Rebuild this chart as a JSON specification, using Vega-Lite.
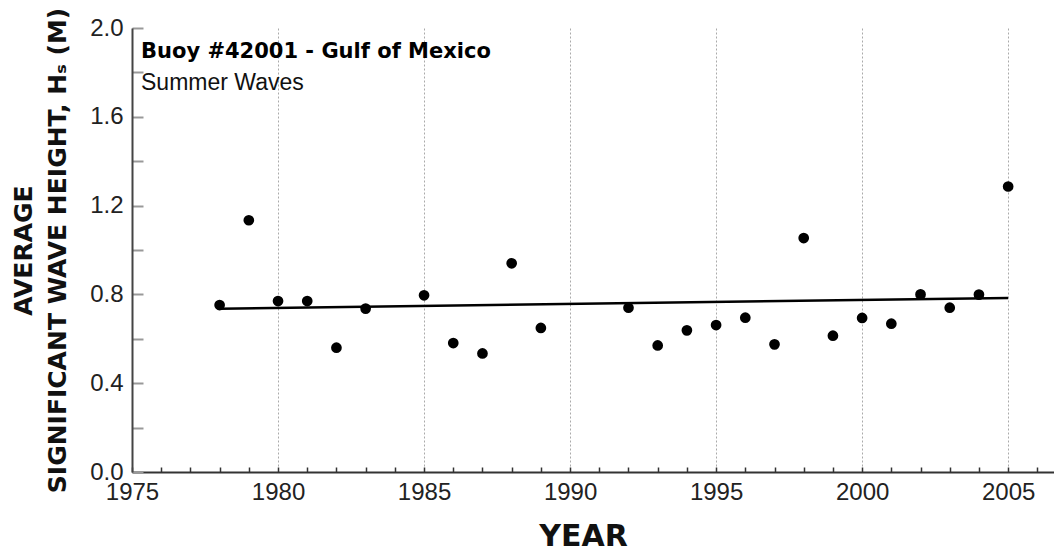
{
  "$schema": "https://vega.github.io/schema/vega-lite/v6.json",
  "autosize": {"type": "none"},
  "padding": {"left": 132, "top": 28, "right": 0, "bottom": 83},
  "width": 922,
  "height": 444,
  "background": "white",
  "config": {
    "view": {"stroke": null},
    "font": "Liberation Sans"
  },
  "title": {
    "text": "Buoy #42001 - Gulf of Mexico",
    "subtitle": "Summer Waves",
    "anchor": "start",
    "frame": "group",
    "orient": "top",
    "offset": -88,
    "dx": 9,
    "font": "DejaVu Sans",
    "fontSize": 21,
    "fontWeight": "bold",
    "color": "#000000",
    "subtitleFont": "Liberation Sans",
    "subtitleFontSize": 23,
    "subtitleColor": "#111111",
    "subtitlePadding": 10
  },
  "datasets": {
    "waves": [
      {"year": 1978, "hs": 0.752},
      {"year": 1979, "hs": 1.134},
      {"year": 1980, "hs": 0.770},
      {"year": 1981, "hs": 0.770},
      {"year": 1982, "hs": 0.560},
      {"year": 1983, "hs": 0.736},
      {"year": 1985, "hs": 0.796},
      {"year": 1986, "hs": 0.581},
      {"year": 1987, "hs": 0.534},
      {"year": 1988, "hs": 0.940},
      {"year": 1989, "hs": 0.649},
      {"year": 1992, "hs": 0.740},
      {"year": 1993, "hs": 0.570},
      {"year": 1994, "hs": 0.638},
      {"year": 1995, "hs": 0.662},
      {"year": 1996, "hs": 0.695},
      {"year": 1997, "hs": 0.575},
      {"year": 1998, "hs": 1.054},
      {"year": 1999, "hs": 0.614},
      {"year": 2000, "hs": 0.694},
      {"year": 2001, "hs": 0.668},
      {"year": 2002, "hs": 0.800},
      {"year": 2003, "hs": 0.740},
      {"year": 2004, "hs": 0.799},
      {"year": 2005, "hs": 1.286}
    ],
    "trend": [
      {"year": 1978, "hs": 0.735},
      {"year": 2005, "hs": 0.784}
    ]
  },
  "encoding": {
    "x": {
      "field": "year",
      "type": "quantitative",
      "scale": {"domain": [1975, 2006.57], "nice": false, "zero": false},
      "axis": {
        "title": "YEAR",
        "titleFont": "DejaVu Sans",
        "titleFontSize": 30,
        "titleFontWeight": "bold",
        "titleColor": "#111111",
        "titlePadding": 17,
        "titleX": 451,
        "values": [1975,1976,1977,1978,1979,1980,1981,1982,1983,1984,1985,1986,1987,1988,1989,1990,1991,1992,1993,1994,1995,1996,1997,1998,1999,2000,2001,2002,2003,2004,2005,2006],
        "labelExpr": "datum.value % 5 === 0 ? '' + datum.value : ''",
        "labelFontSize": 24,
        "labelColor": "#222222",
        "labelPadding": 13,
        "labelFlush": false,
        "labelOverlap": false,
        "tickSize": -5,
        "tickColor": "#333333",
        "tickWidth": 1.5,
        "domainColor": "#333333",
        "domainWidth": 2,
        "grid": true,
        "gridColor": "#aaaaaa",
        "gridDash": [2, 2],
        "gridWidth": 1,
        "gridOpacity": {"condition": {"test": "datum.value % 5 === 0", "value": 1}, "value": 0}
      }
    },
    "y": {
      "field": "hs",
      "type": "quantitative",
      "scale": {"domain": [0, 2], "nice": false},
      "axis": {
        "title": ["AVERAGE", "SIGNIFICANT WAVE HEIGHT, Hₛ (M)"],
        "titleFont": "DejaVu Sans",
        "titleFontSize": 25,
        "titleFontWeight": "bold",
        "titleColor": "#111111",
        "titleLineHeight": 34,
        "titlePadding": 19,
        "values": [0, 0.2, 0.4, 0.6, 0.8, 1.0, 1.2, 1.4, 1.6, 1.8, 2.0],
        "labelExpr": "round(datum.value * 10) % 4 === 0 ? format(datum.value, '.1f') : ''",
        "labelFontSize": 24,
        "labelColor": "#222222",
        "labelPadding": 20,
        "labelFlush": false,
        "labelOverlap": false,
        "tickSize": -11,
        "tickColor": "#999999",
        "tickWidth": 2,
        "domainColor": "#444444",
        "domainWidth": 2,
        "grid": false
      }
    }
  },
  "layer": [
    {
      "mark": {"type": "rule", "color": "#555555", "strokeWidth": 2},
      "encoding": {"y": {"datum": 2}}
    },
    {
      "data": {"name": "trend"},
      "mark": {"type": "line", "color": "#000000", "strokeWidth": 2.5}
    },
    {
      "data": {"name": "waves"},
      "mark": {"type": "circle", "color": "#000000", "opacity": 1, "size": 115}
    }
  ]
}
